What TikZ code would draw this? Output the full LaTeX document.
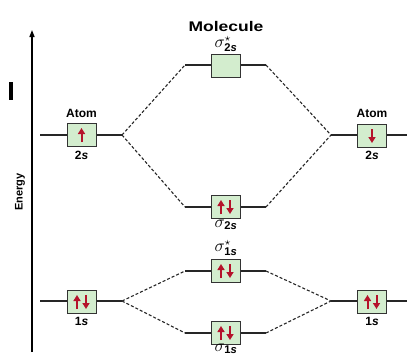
\documentclass[tikz,border=0pt]{standalone}
\usepackage{amsmath}
\usepackage{fontspec}
\setmainfont{Liberation Sans}
\usetikzlibrary{arrows.meta}
\definecolor{boxfill}{HTML}{D3EDCE}
\definecolor{elecred}{HTML}{B5122B}
\begin{document}
\begin{tikzpicture}[x=1pt,y=-1pt,
  orb/.style={draw=black!80, fill=boxfill, line width=1pt, minimum width=29pt, minimum height=23pt, inner sep=0pt},
  lvl/.style={line width=1.1pt, draw=black!85},
  corr/.style={dash pattern=on 3pt off 2pt, line width=1.1pt, draw=black!85},
  elec/.style={draw=elecred, line width=2pt, -{Triangle[width=7pt,length=6pt]}},
  lab/.style={font=\bfseries\fontsize{12}{12}\selectfont, inner sep=0pt},
  siglab/.style={font=\fontsize{16}{16}\selectfont, inner sep=0pt}
]
\useasboundingbox (0,0) rectangle (407,356);
% energy axis
\coordinate (axb) at (32,352);
\coordinate (axt) at (32,30);
\draw[line width=1.3pt, -{Triangle[width=5pt,length=7pt]}] (axb) -- (axt);
\node[rotate=90, font=\bfseries\fontsize{11}{11}\selectfont, inner sep=0pt] (en) at (20,192) {Energy};
\node[fill=black, minimum width=4pt, minimum height=18pt, inner sep=0pt] (imark) at (10.5,91) {};
% level end points
\coordinate (L2a) at (40,135);  \coordinate (L2b) at (122,135);
\coordinate (R2a) at (331,135); \coordinate (R2b) at (407,135);
\coordinate (S2a) at (185,65);  \coordinate (S2b) at (266,65);
\coordinate (B2a) at (185,207); \coordinate (B2b) at (266,207);
\coordinate (S1a) at (185,271); \coordinate (S1b) at (266,271);
\coordinate (B1a) at (185,333); \coordinate (B1b) at (266,333);
\coordinate (L1a) at (40,301);  \coordinate (L1b) at (122,301);
\coordinate (R1a) at (331,301); \coordinate (R1b) at (407,301);
% levels
\foreach \p in {L2,R2,S2,B2,S1,B1,L1,R1} \draw[lvl] (\p a) -- (\p b);
% correlation lines
\draw[corr] (L2b) -- (S2a);
\draw[corr] (L2b) -- (B2a);
\draw[corr] (S2b) -- (R2a);
\draw[corr] (B2b) -- (R2a);
\draw[corr] (L1b) -- (S1a);
\draw[corr] (L1b) -- (B1a);
\draw[corr] (S1b) -- (R1a);
\draw[corr] (B1b) -- (R1a);
% boxes
\node[orb] (bl2) at (81.5,135) {};
\node[orb] (br2) at (372,136) {};
\node[orb] (bs2) at (225.5,65.5) {};
\node[orb] (bb2) at (225.5,207) {};
\node[orb] (bs1) at (225.5,271) {};
\node[orb] (bb1) at (225.5,333) {};
\node[orb] (bl1) at (81.5,302) {};
\node[orb] (br1) at (372,302) {};
% electrons
\draw[elec] ([yshift=-7pt]bl2.center) -- ([yshift=7pt]bl2.center);
\draw[elec] ([yshift=7pt]br2.center) -- ([yshift=-7pt]br2.center);
\foreach \b in {bb2,bs1,bb1,bl1,br1}{
  \draw[elec] ([xshift=-4.5pt,yshift=-7pt]\b.center) -- ([xshift=-4.5pt,yshift=7pt]\b.center);
  \draw[elec] ([xshift=4.5pt,yshift=7pt]\b.center) -- ([xshift=4.5pt,yshift=-7pt]\b.center);
}
% labels
\node[lab, font=\bfseries\fontsize{14}{14}\selectfont] (mol) at (226,26) {\scalebox{1.25}[1]{Molecule}};
\node[lab] (atl) at (81.5,113) {Atom};
\node[lab] (atr) at (372,113) {Atom};
\node[lab] (l2s) at (81.5,155) {2\textit{s}};
\node[lab] (r2s) at (372,155) {2\textit{s}};
\node[lab] (l1s) at (81.5,321) {1\textit{s}};
\node[lab] (r1s) at (372,321) {1\textit{s}};
\node[siglab] (ss2) at (226,44) {$\sigma^{\star}_{\text{\bfseries 2\itshape s}}$};
\node[siglab] (sb2) at (226,225) {$\sigma_{\text{\bfseries 2\itshape s}}$};
\node[siglab] (ss1) at (226,248) {$\sigma^{\star}_{\text{\bfseries 1\itshape s}}$};
\node[siglab] (sb1) at (226,349) {$\sigma_{\text{\bfseries 1\itshape s}}$};
\end{tikzpicture}
\end{document}
